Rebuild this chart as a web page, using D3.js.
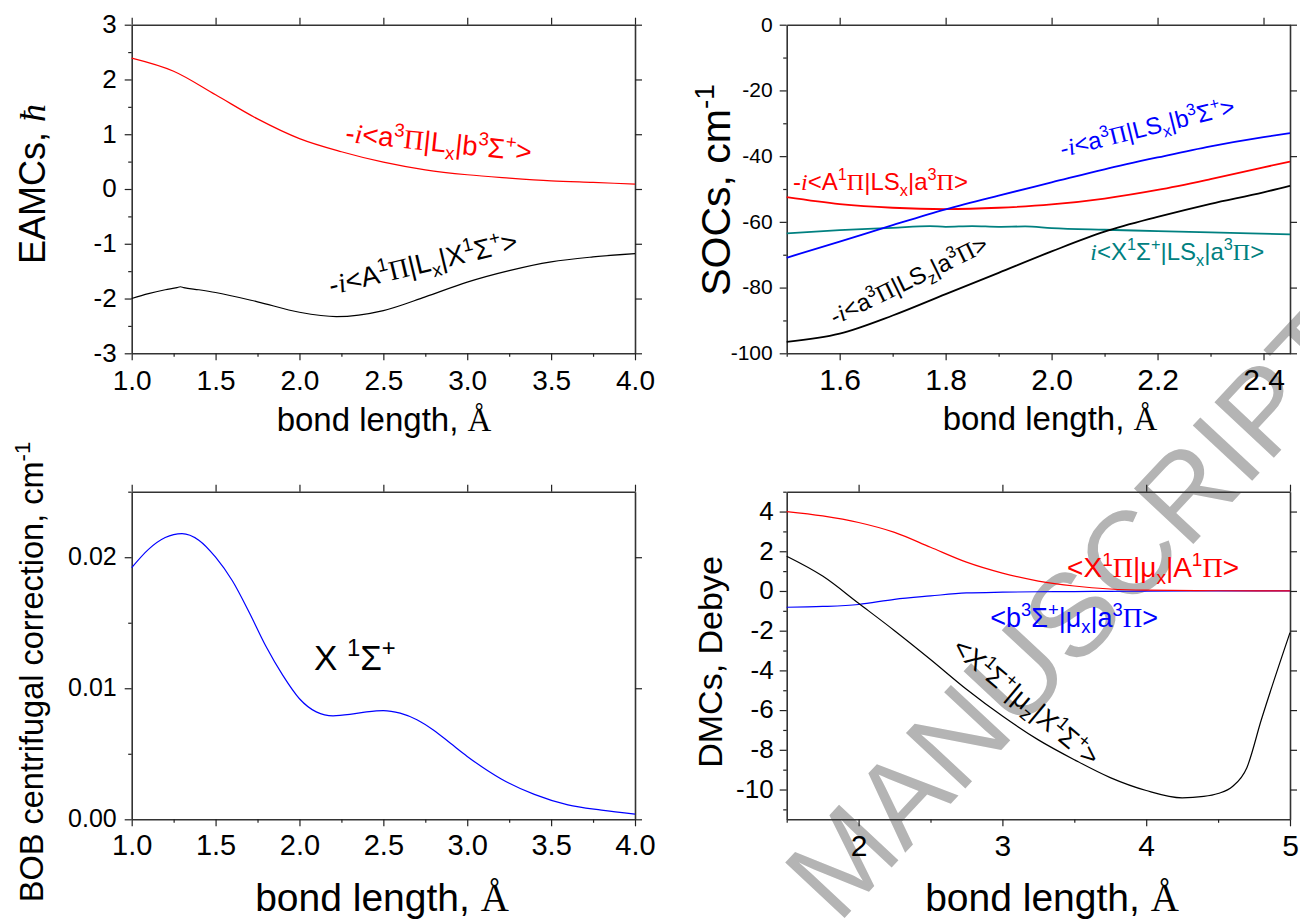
<!DOCTYPE html>
<html>
<head>
<meta charset="utf-8">
<script src="https://cdn.jsdelivr.net/npm/d3@7"></script>
<style>
  body { margin: 0; background: #fff; }
  svg text { font-family: "Liberation Sans", Arial, sans-serif; }
</style>
</head>
<body>
<div id="chart"></div>
<script>
let W = 1300;
let H = 924;
let serif = "'Liberation Serif', 'Times New Roman', serif";

// ---- panel 1: EAMCs
let eamcRedX   = [1.0, 1.25, 1.5, 1.75, 2.0, 2.25, 2.5, 2.75, 3.0, 3.25, 3.5, 3.75, 4.0];
let eamcRedY   = [2.39, 2.15, 1.72, 1.28, 0.92, 0.68, 0.49, 0.35, 0.26, 0.20, 0.15, 0.12, 0.09];
let eamcBlackX = [1.0, 1.1, 1.2, 1.27, 1.29, 1.31, 1.4, 1.5, 1.75, 2.0, 2.22, 2.5, 2.75, 3.0, 3.25, 3.5, 3.75, 4.0];
let eamcBlackY = [-2.0, -1.91, -1.84, -1.80, -1.785, -1.80, -1.84, -1.89, -2.06, -2.25, -2.33, -2.22, -1.97, -1.70, -1.49, -1.33, -1.24, -1.18];

// ---- panel 2: SOCs
let socX      = [1.5, 1.6, 1.7, 1.8, 1.9, 2.0, 2.1, 2.2, 2.3, 2.4, 2.45];
let socBlue   = [-70.9, -66.0, -61.0, -56.2, -52.0, -48.0, -44.0, -40.4, -37.0, -34.2, -33.0];
let socRed    = [-52.5, -54.6, -55.7, -56.1, -55.7, -54.7, -52.9, -50.3, -47.0, -43.4, -41.7];
let socBlack  = [-96.5, -94.0, -88.5, -82.0, -75.5, -69.0, -63.0, -58.5, -54.5, -51.0, -49.0];
let socTealX  = [1.5, 1.6, 1.7, 1.77, 1.8, 1.85, 1.9, 1.95, 2.0, 2.1, 2.2, 2.3, 2.45];
let socTeal   = [-63.5, -62.5, -61.8, -61.3, -61.5, -61.3, -61.5, -61.4, -61.9, -62.4, -62.8, -63.2, -63.8];

// ---- panel 3: BOB
let bobX = [1.0, 1.1, 1.2, 1.3, 1.4, 1.5, 1.6, 1.7, 1.8, 1.9, 2.0, 2.1, 2.2, 2.3, 2.4, 2.5, 2.6, 2.7, 2.8, 2.9, 3.0, 3.2, 3.4, 3.6, 3.8, 4.0];
let bobY = [0.0192, 0.0206, 0.0215, 0.0218, 0.0213, 0.0200, 0.0182, 0.0158, 0.0132, 0.0110, 0.0092, 0.0082, 0.0079, 0.0080, 0.0082, 0.0083, 0.0081, 0.0076, 0.0068, 0.0058, 0.0048, 0.0031, 0.0019, 0.0011, 0.0007, 0.0004];

// ---- panel 4: DMCs
let dmcX      = [1.5, 1.75, 2.0, 2.25, 2.5, 2.75, 3.0, 3.25, 3.5, 3.75, 4.0, 4.5, 5.0];
let dmcRed    = [4.0, 3.78, 3.45, 2.95, 2.2, 1.45, 0.9, 0.5, 0.25, 0.1, 0.04, 0.01, 0.0];
let dmcBlue   = [-0.82, -0.78, -0.68, -0.42, -0.25, -0.10, -0.06, -0.04, -0.03, -0.02, -0.01, 0.0, 0.0];
let dmcBlackX = [1.5, 1.75, 2.0, 2.25, 2.5, 2.75, 3.0, 3.25, 3.5, 3.75, 4.0, 4.25, 4.4, 4.5, 4.6, 4.7, 4.8, 5.0];
let dmcBlack  = [1.75, 0.75, -0.62, -2.0, -3.45, -4.95, -6.3, -7.5, -8.5, -9.4, -10.05, -10.42, -10.35, -10.2, -9.85, -8.9, -6.5, -2.1];

let svg = d3.select("#chart").append("svg")
  .attr("width", W)
  .attr("height", H)
  .style("background", "#fff");

// watermark behind everything
svg.append("text")
  .attr("transform", "translate(838,925) rotate(-47)")
  .attr("font-family", serif)
  .attr("font-size", 118)
  .attr("fill", "#b4b4b4")
  .text("MANUSCRIPT");

function pairs(xs, ys) {
  return xs.map((x, i) => [x, ys[i]]);
}

// rich text with super/subscripts; segments = [text, kind]
function richText(g, x, y, angle, size, color, segs) {
  let t = g.append("text")
    .attr("transform", `translate(${x},${y}) rotate(${angle})`)
    .attr("font-size", size)
    .attr("fill", color);
  let shift = 0;
  segs.forEach(s => {
    let sp = t.append("tspan").text(s[0]);
    let target = 0;
    if (s[1] === "^") { target = -0.40 * size; sp.attr("font-size", size * 0.68); }
    if (s[1] === "_") { target = 0.24 * size; sp.attr("font-size", size * 0.68); }
    if (s[1] === "i") sp.attr("font-family", serif).attr("font-style", "italic");
    if (s[1] === "s") sp.attr("font-family", serif);
    sp.attr("dy", target - shift);
    shift = target;
  });
  return t;
}

function panel(cfg) {
  let g = svg.append("g");
  let x = d3.scaleLinear().domain(cfg.xDomain).range([cfg.left, cfg.right]);
  let y = d3.scaleLinear().domain(cfg.yDomain).range([cfg.bottom, cfg.top]);

  let bottom = g.append("g").attr("transform", `translate(0,${cfg.bottom})`)
    .call(d3.axisBottom(x).tickValues(cfg.xMajor).tickSize(7).tickSizeOuter(0)
      .tickPadding(cfg.xPad).tickFormat(cfg.xFmt));
  bottom.selectAll("text").attr("font-size", cfg.xFont).attr("fill", "#000");
  g.append("g").attr("transform", `translate(0,${cfg.bottom})`)
    .call(d3.axisBottom(x).tickValues(cfg.xMinor).tickSize(3.5).tickFormat(""))
    .call(a => a.select(".domain").remove());
  g.append("g").attr("transform", `translate(0,${cfg.top})`)
    .call(d3.axisTop(x).tickValues(cfg.xMajor).tickSize(7).tickSizeOuter(0).tickFormat(""));

  let left = g.append("g").attr("transform", `translate(${cfg.left},0)`)
    .call(d3.axisLeft(y).tickValues(cfg.yMajor).tickSize(7).tickSizeOuter(0)
      .tickPadding(cfg.yPad).tickFormat(cfg.yFmt));
  left.selectAll("text").attr("font-size", cfg.yFont).attr("fill", "#000").attr("dy", "0.3em");
  g.append("g").attr("transform", `translate(${cfg.left},0)`)
    .call(d3.axisLeft(y).tickValues(cfg.yMinor).tickSize(3.5).tickFormat(""))
    .call(a => a.select(".domain").remove());
  g.append("g").attr("transform", `translate(${cfg.right},0)`)
    .call(d3.axisRight(y).tickValues(cfg.yMajor).tickSize(7).tickSizeOuter(0).tickFormat(""));

  g.selectAll(".domain").attr("stroke", "#333").attr("stroke-width", 1.6);
  g.selectAll(".tick line").attr("stroke", "#222").attr("stroke-width", 1.2);

  let line = d3.line().x(d => x(d[0])).y(d => y(d[1])).curve(d3.curveMonotoneX);
  cfg.series.forEach(s => {
    g.append("path")
      .attr("d", line(s.data))
      .attr("fill", "none")
      .attr("stroke", s.color)
      .attr("stroke-width", s.width || 1.2);
  });
  (cfg.labels || []).forEach(l => {
    richText(g, x(l.x), y(l.y), l.angle, l.size, l.color, l.segs);
  });
  return g;
}

let fmt1 = d3.format(".1f");
let plain = d => String(d);

// panel 1
panel({
  left: 131.7, right: 635, top: 24.7, bottom: 353.3,
  xDomain: [1, 4], yDomain: [-3, 3],
  xMajor: [1, 1.5, 2, 2.5, 3, 3.5, 4], xMinor: [1.25, 1.75, 2.25, 2.75, 3.25, 3.75],
  yMajor: [-3, -2, -1, 0, 1, 2, 3], yMinor: [-2.5, -1.5, -0.5, 0.5, 1.5, 2.5],
  xFmt: fmt1, yFmt: plain, xFont: 28, yFont: 26, xPad: 10, yPad: 8,
  series: [
    {data: pairs(eamcRedX, eamcRedY), color: "#ff0000"},
    {data: pairs(eamcBlackX, eamcBlackY), color: "#000"}
  ],
  labels: [
    {x: 2.27, y: 0.86, angle: 6, size: 27.5, color: "#ff0000",
     segs: [["-", ""], ["i", "i"], ["<a", ""], ["3", "^"], ["Π", "s"], ["|L", ""], ["x", "_"], ["|b", ""], ["3", "^"], ["Σ", ""], ["+", "^"], [">", ""]]},
    {x: 2.19, y: -1.935, angle: -13.5, size: 27.5, color: "#000",
     segs: [["-", ""], ["i", "i"], ["<A", ""], ["1", "^"], ["Π", "s"], ["|L", ""], ["x", "_"], ["|X", ""], ["1", "^"], ["Σ", ""], ["+", "^"], [">", ""]]}
  ]
});

// panel 2
panel({
  left: 786.7, right: 1290, top: 24.7, bottom: 353.3,
  xDomain: [1.5, 2.45], yDomain: [-100, 0],
  xMajor: [1.6, 1.8, 2.0, 2.2, 2.4], xMinor: [1.5, 1.7, 1.9, 2.1, 2.3],
  yMajor: [-100, -80, -60, -40, -20, 0], yMinor: [-90, -70, -50, -30, -10],
  xFmt: fmt1, yFmt: plain, xFont: 30, yFont: 21, xPad: 8, yPad: 7,
  series: [
    {data: pairs(socTealX, socTeal), color: "#008080", width: 1.8},
    {data: pairs(socX, socRed), color: "#ff0000", width: 1.8},
    {data: pairs(socX, socBlue), color: "#0000ff", width: 1.8},
    {data: pairs(socX, socBlack), color: "#000", width: 1.8}
  ],
  labels: [
    {x: 1.512, y: -50.3, angle: 0, size: 24, color: "#ff0000",
     segs: [["-", ""], ["i", "i"], ["<A", ""], ["1", "^"], ["Π", "s"], ["|LS", ""], ["x", "_"], ["|a", ""], ["3", "^"], ["Π", "s"], [">", ""]]},
    {x: 2.02, y: -40.3, angle: -14, size: 24, color: "#0000ff",
     segs: [["-", ""], ["i", "i"], ["<a", ""], ["3", "^"], ["Π", "s"], ["|LS", ""], ["x", "_"], ["|b", ""], ["3", "^"], ["Σ", ""], ["+", "^"], [">", ""]]},
    {x: 2.073, y: -71.6, angle: 0, size: 24, color: "#008080",
     segs: [["i", "i"], ["<X", ""], ["1", "^"], ["Σ", ""], ["+", "^"], ["|LS", ""], ["x", "_"], ["|a", ""], ["3", "^"], ["Π", "s"], [">", ""]]},
    {x: 1.591, y: -91.5, angle: -26, size: 24, color: "#000",
     segs: [["-", ""], ["i", "i"], ["<a", ""], ["3", "^"], ["Π", "s"], ["|LS", ""], ["z", "_"], ["|a", ""], ["3", "^"], ["Π", "s"], [">", ""]]}
  ]
});

// panel 3
panel({
  left: 131.7, right: 635, top: 491.7, bottom: 819.3,
  xDomain: [1, 4], yDomain: [0, 0.025],
  xMajor: [1, 1.5, 2, 2.5, 3, 3.5, 4], xMinor: [1.25, 1.75, 2.25, 2.75, 3.25, 3.75],
  yMajor: [0, 0.01, 0.02], yMinor: [0.005, 0.015, 0.025],
  xFmt: fmt1, yFmt: d3.format(".2f"), xFont: 29, yFont: 25, xPad: 8, yPad: 8,
  series: [
    {data: pairs(bobX, bobY), color: "#0000ff"}
  ],
  labels: [
    {x: 2.086, y: 0.01138, angle: 0, size: 35, color: "#000",
     segs: [["X ", ""], ["1", "^"], ["Σ", ""], ["+", "^"]]}
  ]
});

// panel 4
panel({
  left: 786.7, right: 1290, top: 491.7, bottom: 819.3,
  xDomain: [1.5, 5], yDomain: [-11.5, 5],
  xMajor: [2, 3, 4, 5], xMinor: [1.5, 2.5, 3.5, 4.5],
  yMajor: [-10, -8, -6, -4, -2, 0, 2, 4], yMinor: [-11, -9, -7, -5, -3, -1, 1, 3, 5],
  xFmt: plain, yFmt: plain, xFont: 30, yFont: 26, xPad: 8, yPad: 6,
  series: [
    {data: pairs(dmcX, dmcBlue), color: "#0000ff"},
    {data: pairs(dmcX, dmcRed), color: "#ff0000"},
    {data: pairs(dmcBlackX, dmcBlack), color: "#000"}
  ],
  labels: [
    {x: 3.45, y: 0.70, angle: 0, size: 28, color: "#ff0000",
     segs: [["<X", ""], ["1", "^"], ["Π", "s"], ["|μ", ""], ["x", "_"], ["|A", ""], ["1", "^"], ["Π", "s"], [">", ""]]},
    {x: 2.915, y: -1.81, angle: 0, size: 27, color: "#0000ff",
     segs: [["<b", ""], ["3", "^"], ["Σ", ""], ["+", "^"], ["|μ", ""], ["x", "_"], ["|a", ""], ["3", "^"], ["Π", "s"], [">", ""]]},
    {x: 2.64, y: -3.0, angle: 40, size: 27, color: "#000",
     segs: [["<X", ""], ["1", "^"], ["Σ", ""], ["+", "^"], ["|μ", ""], ["z", "_"], ["|X", ""], ["1", "^"], ["Σ", ""], ["+", "^"], [">", ""]]}
  ]
});

// axis titles
function xTitle(cx, by, size) {
  let t = svg.append("text").attr("x", cx).attr("y", by).attr("font-size", size)
    .attr("text-anchor", "middle");
  t.append("tspan").text("bond length, ");
  t.append("tspan").attr("font-family", serif).text("Å");
}
xTitle(384, 431, 33);
xTitle(1050, 430, 33);
xTitle(382, 911, 39);
xTitle(1052, 911, 39);

function yTitle(bx, cy, size, segs) {
  let t = richText(svg, 0, 0, 0, size, "#000", segs);
  t.attr("text-anchor", "middle").attr("transform", `translate(${bx},${cy}) rotate(-90)`);
}
yTitle(45, 184, 36, [["EAMCs, ", ""], ["ħ", "i"]]);
yTitle(730, 190, 41, [["SOCs,  cm", ""], ["-1", "^"]]);
yTitle(43, 672, 32.5, [["BOB centrifugal correction, cm", ""], ["-1", "^"]]);
yTitle(722, 662, 34, [["DMCs,  Debye", ""]]);
</script>
</body>
</html>
